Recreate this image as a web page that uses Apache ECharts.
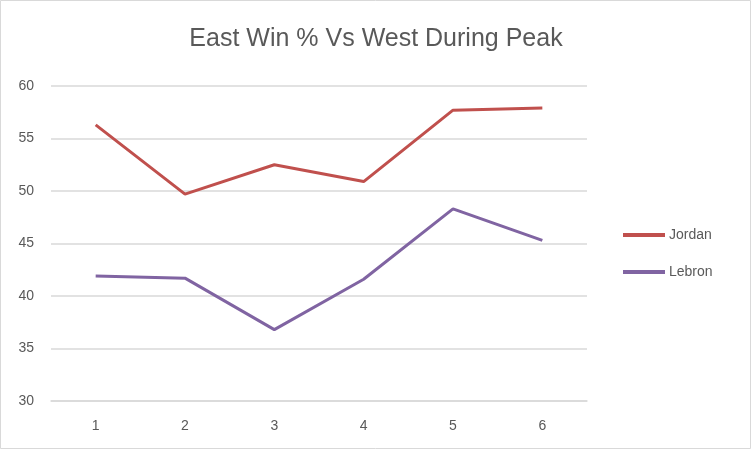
<!DOCTYPE html>
<html><head><meta charset="utf-8">
<script src="https://cdn.jsdelivr.net/npm/echarts@6/dist/echarts.min.js"></script>
<style>html,body{margin:0;padding:0;background:#fff}#c{width:752px;height:450px}</style>
</head><body><div id="c"></div>
<script>
const categories = ['1','2','3','4','5','6'];
const jordan = [56.3, 49.7, 52.5, 50.9, 57.7, 57.9];
const lebron = [41.9, 41.7, 36.8, 41.6, 48.3, 45.3];
const titleText = 'East Win % Vs West During Peak';
const ff = '"Liberation Sans", Arial, sans-serif';
const chart = echarts.init(document.getElementById('c'), null, {renderer:'canvas'});
chart.setOption({
  animation:false,
  backgroundColor:'#fff',
  textStyle:{fontFamily:ff},
  title:{text:titleText,left:'center',top:22,textStyle:{fontFamily:ff,fontSize:25,fontWeight:'normal',color:'#595959'}},
  grid:{left:51,right:165,top:86,bottom:49},
  legend:{orient:'vertical',left:623,top:228,padding:0,itemWidth:42,itemHeight:4,itemGap:23,icon:'rect',
    textStyle:{fontFamily:ff,fontSize:14,color:'#595959',padding:[0,0,0,-1]},
    data:['Jordan','Lebron']},
  xAxis:{type:'category',data:categories,boundaryGap:true,
    axisLine:{lineStyle:{color:'#d9d9d9',width:1.5}},axisTick:{show:false},
    axisLabel:{color:'#595959',fontSize:14,fontFamily:ff,margin:18}},
  yAxis:{type:'value',min:30,max:60,interval:5,
    axisLine:{show:false},axisTick:{show:false},
    splitLine:{lineStyle:{color:'#d9d9d9',width:1.5}},
    axisLabel:{color:'#595959',fontSize:14,fontFamily:ff,margin:17}},
  graphic:[{type:'rect',shape:{x:0.5,y:0.5,width:750,height:448},style:{fill:'none',stroke:'#d9d9d9',lineWidth:1},silent:true,z:-1}],
  series:[
    {name:'Jordan',type:'line',data:jordan,symbol:'none',lineStyle:{color:'#C0504D',width:3},itemStyle:{color:'#C0504D'}},
    {name:'Lebron',type:'line',data:lebron,symbol:'none',lineStyle:{color:'#8064A2',width:3},itemStyle:{color:'#8064A2'}}
  ]
});
</script></body></html>
